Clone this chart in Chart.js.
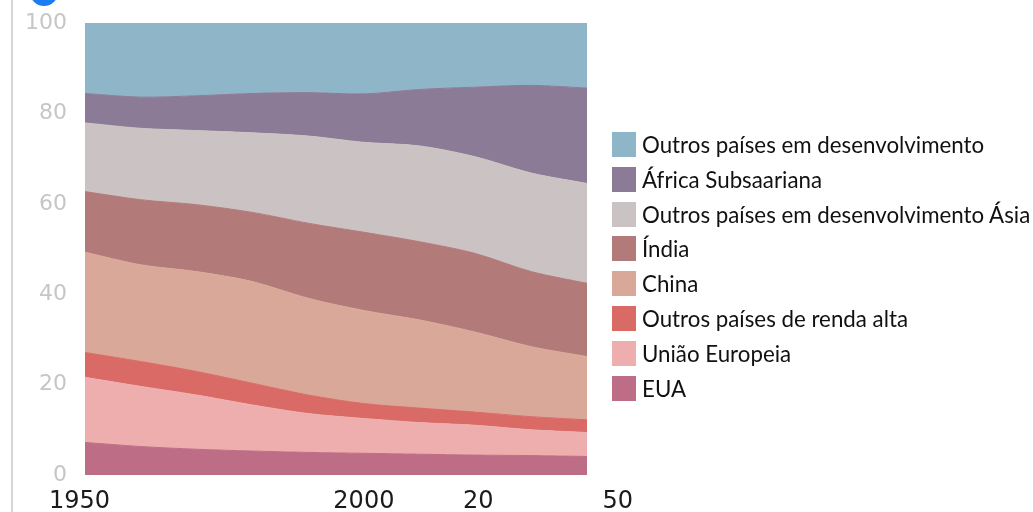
<!DOCTYPE html>
<html><head><meta charset="utf-8">
<script src="https://cdn.jsdelivr.net/npm/chart.js@4"></script>
<style>
html,body{margin:0;padding:0;background:#fff;}
#wrap{position:relative;width:1033px;height:512px;overflow:hidden;}
#c{position:absolute;left:0;top:0;}
#axisline{position:absolute;left:11px;top:0;width:2px;height:512px;background:#d6d6d6;}
#dot{position:absolute;left:30px;top:-22px;width:28px;height:28px;border-radius:50%;background:#1a7cf0;}
#legend{position:absolute;left:612px;top:127px;font-family:Lato,"Open Sans",sans-serif;font-size:22.3px;color:#111;}
.item{display:flex;align-items:center;height:34.85px;white-space:nowrap;}
.sw{width:24px;height:25px;margin-right:6px;flex:none;}
</style></head>
<body>
<div id="wrap">
<canvas id="c" width="1033" height="512"></canvas>
<div id="axisline"></div>
<div id="dot"></div>
<div id="legend"></div>
</div>
<script>
const years = [1950,1960,1970,1980,1990,2000,2010,2020,2030,2040];
const eua = [7.2,6.3,5.7,5.3,5.0,4.8,4.6,4.4,4.3,4.1];
const uniaoEuropeia = [14.4,13.3,12.0,10.2,8.6,7.7,7.0,6.6,5.7,5.3];
const outrosRendaAlta = [5.5,5.5,5.2,4.8,4.1,3.3,3.2,2.9,2.9,2.8];
const china = [22.2,21.4,22.1,22.5,21.4,20.6,19.5,17.7,15.5,14.0];
const india = [13.4,14.4,14.8,15.3,16.6,17.3,17.3,17.4,16.6,16.2];
const outrosAsia = [15.2,15.8,16.4,17.6,19.3,19.9,21.2,21.4,21.8,22.1];
const africaSubsaariana = [6.5,6.9,7.7,8.7,9.6,10.7,12.5,15.4,19.4,21.1];
const outrosDesenvolvimento = [15.6,16.4,16.1,15.6,15.4,15.7,14.7,14.2,13.8,14.4];

const seriesNames = ["EUA","União Europeia","Outros países de renda alta","China","Índia","Outros países em desenvolvimento Ásia","África Subsaariana","Outros países em desenvolvimento"];
const seriesValues = [eua,uniaoEuropeia,outrosRendaAlta,china,india,outrosAsia,africaSubsaariana,outrosDesenvolvimento];
const seriesColors = ["#bd6e86","#eeaeae","#d96a66","#d9a898","#b27a79","#cbc2c4","#8c7b96","#8fb5c8"];

const xTickValues = [1949,2000,2020.5,2045.5];
const xTickLabels = ["1950","2000","20","50"];
const yTickValues = [0,20,40,60,80,100];

const datasets = seriesNames.map((name,i)=>({
  label:name,
  data: years.map((yr,j)=>({x:yr,y:seriesValues[i][j]})),
  backgroundColor: seriesColors[i],
  borderColor: seriesColors[i],
  borderWidth: 1,
  pointRadius: 0,
  tension: 0.3,
  fill: i===0 ? 'origin' : '-1'
}));

new Chart(document.getElementById('c'),{
  type:'line',
  data:{datasets},
  options:{
    responsive:false,
    animation:false,
    layout:{padding:{top:23,right:446,bottom:0,left:0}},
    plugins:{legend:{display:false},tooltip:{enabled:false}},
    scales:{
      x:{
        type:'linear', min:1950, max:2040,
        grid:{display:false, drawTicks:false},
        border:{display:false},
        afterBuildTicks:(s)=>{ s.ticks = xTickValues.map(v=>({value:v})); },
        afterFit:(s)=>{ s.height = 37; s.paddingLeft = 0; s.paddingRight = 0; },
        ticks:{
          autoSkip:false, maxRotation:0, padding:12,
          color:'#1a1a1a',
          font:{family:'DejaVu Sans', size:24},
          callback:(v,idx)=>xTickLabels[idx]
        }
      },
      y:{
        stacked:true, min:0, max:100,
        grid:{display:false, drawTicks:false},
        border:{display:false},
        afterBuildTicks:(s)=>{ s.ticks = yTickValues.map(v=>({value:v})); },
        afterFit:(s)=>{ s.width = 85; s.paddingTop = 0; s.paddingBottom = 0; },
        ticks:{
          padding:18, color:'#c6c6c6',
          font:{family:'DejaVu Sans', size:22}
        }
      }
    }
  }
});

const legend = document.getElementById('legend');
for (let i = seriesNames.length-1; i>=0; i--) {
  const it = document.createElement('div'); it.className='item';
  const sw = document.createElement('div'); sw.className='sw'; sw.style.background=seriesColors[i];
  const tx = document.createElement('span'); tx.textContent = seriesNames[i];
  it.appendChild(sw); it.appendChild(tx); legend.appendChild(it);
}
</script>
</body></html>
